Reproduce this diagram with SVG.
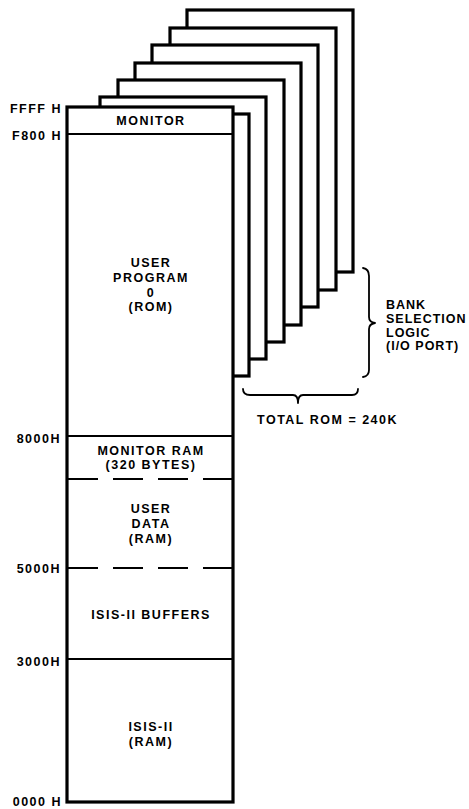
<svg xmlns="http://www.w3.org/2000/svg" width="469" height="809" viewBox="0 0 469 809">
<style>
.pg{fill:#fff;stroke:#000;stroke-width:3.2}
.div{stroke:#000;stroke-width:1.8;fill:none}
.dash{stroke:#000;stroke-width:2;fill:none;stroke-dasharray:30 15}
.br{stroke:#000;stroke-width:1.8;fill:none;stroke-linejoin:round;stroke-linecap:round}
text{font-family:"Liberation Sans",Arial,Helvetica,sans-serif;font-weight:bold;font-size:12.5px;letter-spacing:1.5px;fill:#000}
.c{text-anchor:middle}
.r{text-anchor:end}
.t{letter-spacing:1px}
</style>
<rect width="469" height="809" fill="#fff"/>
<g id="bank-pages">
<rect id="bank7" class="pg" x="187" y="10" width="166" height="262"/>
<rect id="bank6" class="pg" x="170" y="28" width="166" height="262"/>
<rect id="bank5" class="pg" x="152" y="45" width="166" height="262"/>
<rect id="bank4" class="pg" x="135" y="63" width="166" height="262"/>
<rect id="bank3" class="pg" x="118" y="80" width="166" height="262"/>
<rect id="bank2" class="pg" x="100" y="97" width="166" height="262"/>
<rect id="bank1" class="pg" x="83" y="114" width="166" height="262"/>
</g>
<g id="memory-map">
<rect class="pg" x="67" y="107" width="166" height="695" stroke-width="3.5"/>
<g id="monitor">
<line class="div" x1="67" y1="134" x2="233" y2="134"/>
<text class="c" x="151" y="125">MONITOR</text>
</g>
<g id="user-program">
<text class="c" x="151" y="267">USER</text>
<text class="c" x="151" y="282">PROGRAM</text>
<text class="c" x="151" y="297">0</text>
<text class="c" x="151" y="311">(ROM)</text>
</g>
<g id="monitor-ram">
<line class="div" x1="67" y1="436" x2="233" y2="436"/>
<text class="c" x="151" y="455">MONITOR RAM</text>
<text class="c" x="151" y="469">(320 BYTES)</text>
</g>
<g id="user-data">
<line class="dash" x1="68" y1="479" x2="232" y2="479"/>
<text class="c" x="151" y="513">USER</text>
<text class="c" x="151" y="528">DATA</text>
<text class="c" x="151" y="543">(RAM)</text>
</g>
<g id="isis-buffers">
<line class="dash" x1="68" y1="568" x2="232" y2="568"/>
<text class="c" x="151" y="619">ISIS-II BUFFERS</text>
</g>
<g id="isis-ram">
<line class="div" x1="67" y1="659" x2="233" y2="659"/>
<text class="c" x="151" y="731">ISIS-II</text>
<text class="c" x="151" y="746">(RAM)</text>
</g>
</g>
<g id="addresses">
<text class="r" x="62" y="113">FFFF H</text>
<text class="r" x="62" y="140">F800 H</text>
<text class="r" x="61" y="443">8000H</text>
<text class="r" x="61" y="573">5000H</text>
<text class="r" x="61" y="666">3000H</text>
<text class="r" x="62" y="806">0000 H</text>
</g>
<g id="braces">
<path class="br" d="M363,268 Q369,269 369,276 L369,317 Q369,322 375,323 Q369,324 369,329 L369,370 Q369,376 363,377"/>
<path class="br" d="M243,389 Q243,395 250,395 L293,395 Q298,395 298,403 Q298,395 303,395 L352,395 Q358,395 358,389"/>
</g>
<g id="bank-selection-logic">
<text class="t" x="386" y="309">BANK</text>
<text class="t" x="386" y="323">SELECTION</text>
<text class="t" x="386" y="337">LOGIC</text>
<text class="t" x="386" y="350">(I/O PORT)</text>
</g>
<g id="total-rom">
<text x="257" y="424">TOTAL ROM = 240K</text>
</g>
</svg>
